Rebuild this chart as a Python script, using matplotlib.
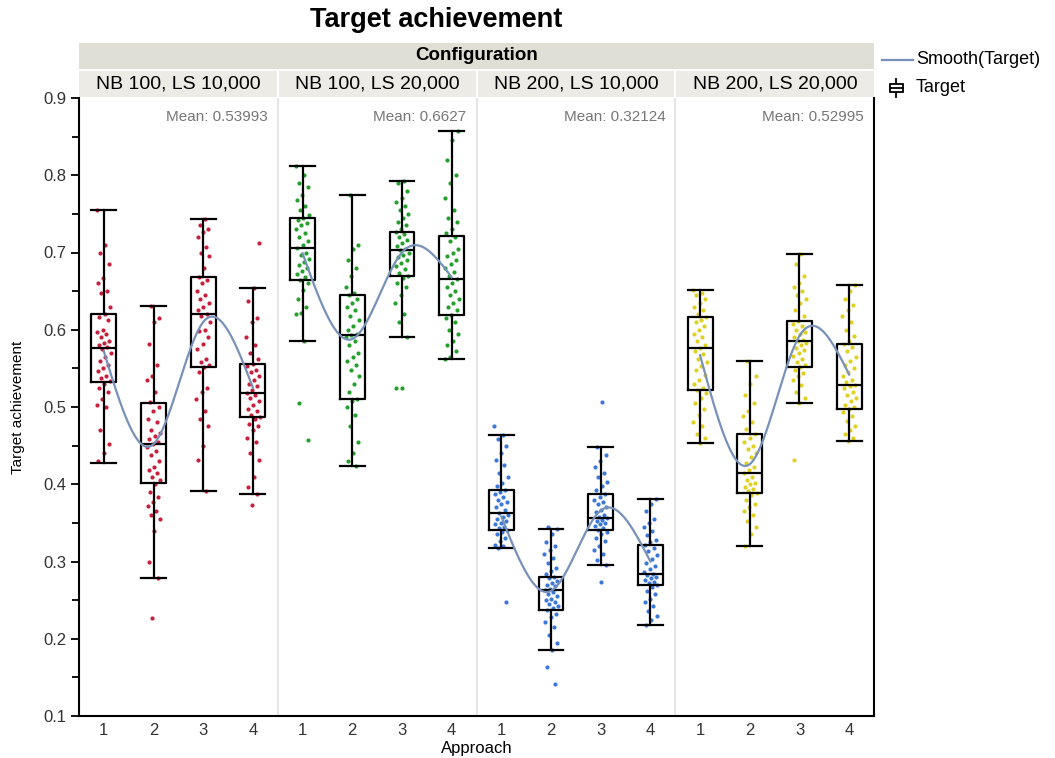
import numpy as np
import matplotlib
matplotlib.use("Agg")
import matplotlib.pyplot as plt
from matplotlib.lines import Line2D
from matplotlib.patches import Rectangle

plt.rcParams['font.family'] = ['Liberation Sans', 'DejaVu Sans']

# Configurations (panels) and approaches (boxes inside each panel)
configs = ["NB 100, LS 10,000", "NB 100, LS 20,000", "NB 200, LS 10,000", "NB 200, LS 20,000"]
approaches = ["1", "2", "3", "4"]
panel_means = ["0.53993", "0.6627", "0.32124", "0.52995"]
colors = ["#c8203c", "#25a02d", "#3c78d8", "#e0d020"]

# Box statistics per panel: one entry per approach
whis_lo = [[0.428, 0.279, 0.391, 0.387],
           [0.586, 0.423, 0.590, 0.562],
           [0.318, 0.186, 0.296, 0.218],
           [0.454, 0.320, 0.505, 0.456]]
q1 = [[0.532, 0.401, 0.552, 0.487],
      [0.664, 0.511, 0.670, 0.619],
      [0.341, 0.237, 0.341, 0.270],
      [0.522, 0.389, 0.552, 0.497]]
med = [[0.577, 0.452, 0.621, 0.518],
       [0.706, 0.593, 0.703, 0.666],
       [0.363, 0.263, 0.356, 0.284],
       [0.576, 0.414, 0.585, 0.529]]
q3 = [[0.621, 0.505, 0.668, 0.556],
      [0.745, 0.645, 0.727, 0.721],
      [0.393, 0.280, 0.387, 0.322],
      [0.617, 0.465, 0.611, 0.582]]
whis_hi = [[0.755, 0.631, 0.743, 0.654],
           [0.812, 0.774, 0.793, 0.857],
           [0.464, 0.342, 0.448, 0.381],
           [0.652, 0.560, 0.698, 0.658]]

# Group means the smooth curve runs through
group_means = [[0.572, 0.452, 0.610, 0.525],
               [0.699, 0.588, 0.700, 0.668],
               [0.358, 0.262, 0.366, 0.300],
               [0.567, 0.426, 0.592, 0.542]]

# Individual observations per panel / approach
p1_a1 = [0.755, 0.71, 0.70, 0.685, 0.667, 0.66, 0.65, 0.648, 0.63, 0.62, 0.617, 0.612, 0.60, 0.597,
         0.594, 0.59, 0.586, 0.583, 0.58, 0.578, 0.575, 0.57, 0.565, 0.56, 0.555, 0.55, 0.546, 0.54,
         0.537, 0.534, 0.53, 0.525, 0.52, 0.51, 0.502, 0.50, 0.47, 0.452, 0.44, 0.43]
p1_a2 = [0.631, 0.615, 0.61, 0.582, 0.555, 0.54, 0.535, 0.52, 0.507, 0.50, 0.495, 0.485, 0.48, 0.47,
         0.466, 0.462, 0.458, 0.455, 0.452, 0.448, 0.443, 0.438, 0.43, 0.422, 0.418, 0.415, 0.41,
         0.405, 0.40, 0.39, 0.384, 0.377, 0.372, 0.365, 0.36, 0.355, 0.34, 0.30, 0.279, 0.227]
p1_a3 = [0.743, 0.735, 0.73, 0.726, 0.72, 0.707, 0.70, 0.695, 0.68, 0.668, 0.665, 0.66, 0.65, 0.645,
         0.64, 0.635, 0.63, 0.625, 0.621, 0.618, 0.61, 0.60, 0.598, 0.59, 0.582, 0.575, 0.562, 0.558,
         0.555, 0.552, 0.545, 0.525, 0.52, 0.51, 0.495, 0.485, 0.475, 0.45, 0.432, 0.391]
p1_a4 = [0.712, 0.654, 0.637, 0.615, 0.61, 0.59, 0.58, 0.57, 0.562, 0.556, 0.553, 0.548, 0.545, 0.54,
         0.535, 0.53, 0.527, 0.522, 0.518, 0.515, 0.512, 0.508, 0.502, 0.498, 0.495, 0.49, 0.487,
         0.484, 0.478, 0.475, 0.47, 0.46, 0.455, 0.44, 0.432, 0.41, 0.397, 0.387, 0.373]

p2_a1 = [0.812, 0.80, 0.79, 0.785, 0.775, 0.768, 0.76, 0.755, 0.748, 0.745, 0.742, 0.738, 0.735, 0.73,
         0.725, 0.72, 0.715, 0.71, 0.706, 0.70, 0.697, 0.692, 0.688, 0.684, 0.68, 0.676, 0.672, 0.668,
         0.664, 0.66, 0.652, 0.64, 0.63, 0.622, 0.62, 0.586, 0.505, 0.457]
p2_a2 = [0.774, 0.71, 0.705, 0.69, 0.68, 0.67, 0.655, 0.648, 0.645, 0.64, 0.635, 0.63, 0.625, 0.618,
         0.612, 0.605, 0.60, 0.595, 0.593, 0.59, 0.585, 0.58, 0.57, 0.565, 0.56, 0.555, 0.548, 0.54,
         0.53, 0.52, 0.511, 0.508, 0.50, 0.49, 0.475, 0.455, 0.44, 0.43, 0.423]
p2_a3 = [0.793, 0.79, 0.78, 0.77, 0.765, 0.76, 0.755, 0.75, 0.745, 0.74, 0.735, 0.73, 0.727, 0.724,
         0.72, 0.716, 0.712, 0.708, 0.705, 0.703, 0.70, 0.697, 0.694, 0.69, 0.686, 0.682, 0.678, 0.674,
         0.67, 0.667, 0.66, 0.655, 0.645, 0.635, 0.62, 0.61, 0.59, 0.525, 0.524]
p2_a4 = [0.857, 0.845, 0.82, 0.80, 0.79, 0.77, 0.755, 0.745, 0.74, 0.73, 0.725, 0.72, 0.715, 0.705,
         0.70, 0.695, 0.69, 0.685, 0.68, 0.675, 0.67, 0.666, 0.66, 0.655, 0.65, 0.645, 0.64, 0.635,
         0.63, 0.625, 0.619, 0.615, 0.61, 0.60, 0.595, 0.585, 0.58, 0.572, 0.565, 0.562]

p3_a1 = [0.475, 0.464, 0.458, 0.45, 0.44, 0.432, 0.425, 0.415, 0.41, 0.402, 0.398, 0.393, 0.39, 0.387,
         0.384, 0.38, 0.377, 0.374, 0.37, 0.367, 0.363, 0.36, 0.358, 0.355, 0.352, 0.35, 0.348, 0.345,
         0.343, 0.341, 0.338, 0.335, 0.33, 0.327, 0.322, 0.32, 0.318, 0.247]
p3_a2 = [0.345, 0.342, 0.335, 0.325, 0.32, 0.315, 0.31, 0.305, 0.298, 0.292, 0.288, 0.284, 0.28, 0.278,
         0.275, 0.272, 0.27, 0.268, 0.265, 0.263, 0.261, 0.258, 0.255, 0.252, 0.25, 0.247, 0.245, 0.242,
         0.24, 0.237, 0.232, 0.228, 0.222, 0.215, 0.205, 0.195, 0.186, 0.164, 0.142]
p3_a3 = [0.506, 0.448, 0.438, 0.43, 0.422, 0.415, 0.41, 0.403, 0.398, 0.393, 0.387, 0.384, 0.38, 0.377,
         0.374, 0.37, 0.367, 0.364, 0.36, 0.358, 0.356, 0.354, 0.352, 0.35, 0.348, 0.346, 0.344, 0.341,
         0.338, 0.335, 0.33, 0.326, 0.32, 0.315, 0.31, 0.302, 0.296, 0.273]
p3_a4 = [0.381, 0.375, 0.365, 0.355, 0.35, 0.345, 0.34, 0.334, 0.328, 0.325, 0.322, 0.318, 0.313, 0.308,
         0.303, 0.298, 0.294, 0.29, 0.287, 0.284, 0.282, 0.28, 0.278, 0.276, 0.274, 0.272, 0.27, 0.267,
         0.262, 0.258, 0.252, 0.248, 0.242, 0.236, 0.23, 0.224, 0.218]

p4_a1 = [0.652, 0.648, 0.645, 0.64, 0.635, 0.63, 0.625, 0.62, 0.617, 0.613, 0.61, 0.605, 0.60, 0.595,
         0.59, 0.585, 0.58, 0.576, 0.572, 0.568, 0.562, 0.558, 0.553, 0.548, 0.542, 0.535, 0.53, 0.525,
         0.522, 0.518, 0.512, 0.505, 0.498, 0.49, 0.48, 0.475, 0.465, 0.46, 0.454]
p4_a2 = [0.56, 0.54, 0.53, 0.515, 0.505, 0.495, 0.488, 0.48, 0.472, 0.465, 0.46, 0.455, 0.45, 0.445,
         0.44, 0.435, 0.428, 0.422, 0.418, 0.414, 0.41, 0.406, 0.402, 0.40, 0.397, 0.394, 0.391, 0.389,
         0.386, 0.38, 0.375, 0.37, 0.365, 0.36, 0.352, 0.345, 0.335, 0.32]
p4_a3 = [0.698, 0.685, 0.67, 0.66, 0.655, 0.65, 0.645, 0.64, 0.635, 0.625, 0.618, 0.611, 0.608, 0.605,
         0.60, 0.597, 0.594, 0.59, 0.587, 0.585, 0.583, 0.58, 0.577, 0.574, 0.57, 0.566, 0.562, 0.558,
         0.555, 0.552, 0.548, 0.544, 0.54, 0.535, 0.528, 0.52, 0.512, 0.505, 0.431]
p4_a4 = [0.658, 0.65, 0.64, 0.632, 0.625, 0.618, 0.61, 0.60, 0.592, 0.585, 0.582, 0.578, 0.572, 0.565,
         0.56, 0.555, 0.55, 0.545, 0.54, 0.535, 0.532, 0.529, 0.527, 0.524, 0.52, 0.516, 0.512, 0.508,
         0.503, 0.50, 0.497, 0.493, 0.488, 0.482, 0.476, 0.47, 0.465, 0.46, 0.456]

points = [[p1_a1, p1_a2, p1_a3, p1_a4],
          [p2_a1, p2_a2, p2_a3, p2_a4],
          [p3_a1, p3_a2, p3_a3, p3_a4],
          [p4_a1, p4_a2, p4_a3, p4_a4]]


def natural_spline(x, y, xs):
    # natural cubic spline through equally spaced knots
    x = np.asarray(x, float)
    y = np.asarray(y, float)
    n = len(x)
    h = x[1] - x[0]
    A = np.zeros((n, n))
    b = np.zeros(n)
    A[0, 0] = A[-1, -1] = 1.0
    for i in range(1, n - 1):
        A[i, i - 1:i + 2] = [1.0, 4.0, 1.0]
        b[i] = 6.0 * (y[i + 1] - 2 * y[i] + y[i - 1]) / h ** 2
    M = np.linalg.solve(A, b)
    idx = np.clip(((xs - x[0]) // h).astype(int), 0, n - 2)
    x0, x1 = x[idx], x[idx + 1]
    return (M[idx] * (x1 - xs) ** 3 / (6 * h) + M[idx + 1] * (xs - x0) ** 3 / (6 * h)
            + (y[idx] / h - M[idx] * h / 6) * (x1 - xs)
            + (y[idx + 1] / h - M[idx + 1] * h / 6) * (xs - x0))


W, H = 1055, 758
fig = plt.figure(figsize=(W / 100, H / 100), dpi=100)


def fx(px):
    return px / W


def fy(py):
    return 1 - py / H


left, right, top, bottom = 79, 874, 98, 716
ax = fig.add_axes([fx(left), fy(bottom), fx(right - left), fy(top) - fy(bottom)])

n_app = len(approaches)
for p in range(len(configs)):
    pos = [p * n_app + i + 1 for i in range(n_app)]
    # jittered observations
    for i, vals in enumerate(points[p]):
        k = np.arange(len(vals))
        jit = ((k * 0.618034 + 0.31 * i) % 1.0 - 0.5) * 0.28
        ax.scatter(pos[i] + jit, vals, s=9, color=colors[p], linewidths=0, zorder=2)
    # box plots from the stats above
    stats = [dict(med=med[p][i], q1=q1[p][i], q3=q3[p][i], whislo=whis_lo[p][i],
                  whishi=whis_hi[p][i], fliers=[]) for i in range(n_app)]
    ax.bxp(stats, positions=pos, widths=0.5, capwidths=0.5, showfliers=False,
           boxprops=dict(color='black', linewidth=1.6),
           whiskerprops=dict(color='black', linewidth=1.6),
           capprops=dict(color='black', linewidth=1.6),
           medianprops=dict(color='black', linewidth=1.6), manage_ticks=False, zorder=3)
    # smooth through the group means
    xs = np.linspace(1, n_app, 200)
    ys = natural_spline(np.arange(1, n_app + 1), group_means[p], xs)
    ax.plot(xs + p * n_app, ys, color='#7891b8', linewidth=1.6, zorder=4)
    ax.text(p * n_app + 4.3, 0.875, "Mean: " + panel_means[p], ha='right', va='center',
            fontsize=11, color='#777777')
    if p > 0:
        ax.axvline(p * n_app + 0.5, color='#e0e0e0', linewidth=1.2, zorder=1)

ax.set_xlim(0.5, len(configs) * n_app + 0.5)
ax.set_ylim(0.1, 0.9)
ax.set_xticks(np.arange(1, len(configs) * n_app + 1))
ax.set_xticklabels(approaches * len(configs), fontsize=12, color='#333333')
ax.tick_params(axis='x', length=0, pad=5)
ax.set_yticks(np.arange(0.1, 0.91, 0.1))
ax.set_yticks(np.arange(0.15, 0.9, 0.1), minor=True)
ax.set_yticklabels(["%.1f" % v for v in np.arange(0.1, 0.91, 0.1)], fontsize=12, color='#333333')
ax.tick_params(axis='y', which='major', length=6, width=1.3, pad=3)
ax.tick_params(axis='y', which='minor', length=5, width=1.3)
ax.spines['top'].set_visible(False)
for s in ['left', 'bottom', 'right']:
    ax.spines[s].set_linewidth(1.5)

# facet header strips
fig.add_artist(Rectangle((fx(left), fy(69)), fx(right - left), fy(43) - fy(69),
                         transform=fig.transFigure, facecolor='#e0dfd5', edgecolor='none'))
fig.text(fx((left + right) / 2), fy(56), "Configuration", ha='center', va='center',
         fontsize=13.5, fontweight='bold')
pw = (right - left) / len(configs)
for p, name in enumerate(configs):
    x0 = left + p * pw + (1 if p > 0 else 0)
    x1 = left + (p + 1) * pw - (1 if p < len(configs) - 1 else 0)
    fig.add_artist(Rectangle((fx(x0), fy(97)), fx(x1 - x0), fy(71) - fy(97),
                             transform=fig.transFigure, facecolor='#ecebe5', edgecolor='none'))
    fig.text(fx((x0 + x1) / 2), fy(84), name, ha='center', va='center', fontsize=14)

fig.text(fx(436), fy(20), "Target achievement", ha='center', va='center',
         fontsize=19.5, fontweight='bold')
fig.text(fx(18), (fy(top) + fy(bottom)) / 2, "Target achievement", rotation=90,
         ha='center', va='center', fontsize=11)
fig.text(fx((left + right) / 2), fy(748), "Approach", ha='center', va='center', fontsize=12)

# legend
fig.add_artist(Line2D([fx(882), fx(913)], [fy(60), fy(60)], transform=fig.transFigure,
                      color='#7891b8', linewidth=1.6))
fig.text(fx(916), fy(60), "Smooth(Target)", ha='left', va='center', fontsize=13)
fig.add_artist(Line2D([fx(896), fx(896)], [fy(79), fy(97)], transform=fig.transFigure,
                      color='black', linewidth=1.3, zorder=2))
fig.add_artist(Rectangle((fx(890), fy(92)), fx(13), fy(84) - fy(92), transform=fig.transFigure,
                         facecolor='white', edgecolor='black', linewidth=1.3, zorder=3))
fig.add_artist(Line2D([fx(890), fx(903)], [fy(88), fy(88)], transform=fig.transFigure,
                      color='black', linewidth=1.3, zorder=4))
fig.text(fx(916), fy(88), "Target", ha='left', va='center', fontsize=13)

fig.savefig("out.png", dpi=100)
